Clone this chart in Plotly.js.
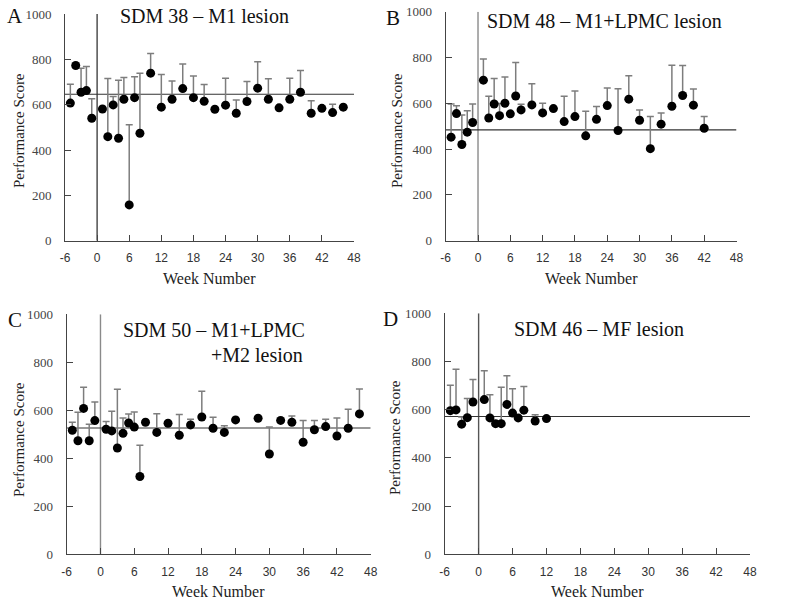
<!DOCTYPE html>
<html>
<head>
<meta charset="utf-8">
<script src="https://cdn.plot.ly/plotly-3.0.1.min.js"></script>
<style>html,body{margin:0;padding:0;background:#fff;}#chart{width:800px;height:605px;}</style>
</head>
<body>
<div id="chart"></div>
<script>
// ---- Data ----
const xTicks = [-6, 0, 6, 12, 18, 24, 30, 36, 42, 48];
const yTicks = [0, 200, 400, 600, 800, 1000];

const weeksA = [-5,-4,-3,-2,-1,1,2,3,4,5,6,7,8,10,12,14,16,18,20,22,24,26,28,30,32,34,36,38,40,42,44,46];
const scoreA = [607,773,655,662,540,581,459,599,452,624,158,631,474,739,589,624,671,631,615,580,598,562,614,673,624,586,624,655,562,584,565,589];
const errA   = [83,0,106,106,86,0,256,37,256,96,353,92,265,87,144,80,108,95,74,0,119,59,88,116,90,0,93,96,55,0,37,0];
const baseA = 646;

const weeksB = [-5,-4,-3,-2,-1,1,2,3,4,5,6,7,8,10,12,14,16,18,20,22,24,26,28,30,32,34,36,38,40,42];
const scoreB = [452,555,420,474,516,701,536,597,546,600,554,632,571,593,558,577,520,542,458,530,590,481,618,526,402,509,587,634,592,491];
const errB   = [145,34,129,93,81,92,95,111,53,115,0,146,25,92,42,0,111,112,107,56,77,183,102,45,140,49,179,131,70,51];
const baseB = 484;

const weeksC = [-5,-4,-3,-2,-1,1,2,3,4,5,6,7,8,10,12,14,16,18,20,22,24,28,30,32,34,36,38,40,42,44,46];
const scoreC = [517,473,608,473,557,521,514,443,504,547,530,324,550,508,546,496,539,572,525,508,560,567,418,558,550,467,519,532,493,525,585];
const errC   = [33,119,88,69,78,32,82,245,64,38,63,130,0,78,0,87,24,107,46,28,0,0,112,0,26,90,38,31,75,79,104];
const baseC = 526;

const weeksD = [-5,-4,-3,-2,-1,1,2,3,4,5,6,7,8,10,12];
const scoreD = [596,599,540,567,632,642,566,542,542,622,586,566,598,553,563];
const errD   = [105,169,30,79,93,120,96,0,151,119,101,0,98,26,0];
const baseD = 572;

const titles = ["SDM 38 \u2013 M1 lesion", "SDM 48 \u2013 M1+LPMC lesion", "SDM 50 \u2013 M1+LPMC", "+M2 lesion", "SDM 46 \u2013 MF lesion"];
const letters = ["A", "B", "C", "D"];
const xTitle = "Week Number";
const yTitle = "Performance Score";

// ---- Layout helpers ----
const W = 800, H = 605;
const px = v => v / W;
const py = v => 1 - v / H;

const panels = [
  {w: weeksA, s: scoreA, e: errA, b: baseA, xd: [65, 354], yd: [14, 240.7], vcol: '#444'},
  {w: weeksB, s: scoreB, e: errB, b: baseB, xd: [445.7, 736.5], yd: [11.7, 240.7], vcol: '#8a8a8a'},
  {w: weeksC, s: scoreC, e: errC, b: baseC, xd: [66.7, 370.7], yd: [314.3, 554.3], vcol: '#8a8a8a'},
  {w: weeksD, s: scoreD, e: errD, b: baseD, xd: [444.7, 750], yd: [313.3, 554.3], vcol: '#555'}
];

const traces = [];
const layout = {
  width: W, height: H,
  margin: {l: 0, r: 0, t: 0, b: 0},
  paper_bgcolor: '#fff', plot_bgcolor: 'rgba(0,0,0,0)',
  showlegend: false,
  annotations: [],
  font: {family: 'Liberation Serif', color: '#222'}
};

panels.forEach((p, i) => {
  const n = i + 1;
  const xa = n === 1 ? 'x' : 'x' + n;
  const ya = n === 1 ? 'y' : 'y' + n;
  const xRange = [xTicks[0], xTicks[xTicks.length - 1]];
  const yRange = [yTicks[0], yTicks[yTicks.length - 1]];
  // vertical line at lesion (week 0)
  traces.push({x: [0, 0], y: yRange, xaxis: xa, yaxis: ya, mode: 'lines',
    line: {color: p.vcol, width: 1.4}, hoverinfo: 'skip'});
  // baseline mean line
  traces.push({x: xRange, y: [p.b, p.b], xaxis: xa, yaxis: ya, mode: 'lines',
    line: {color: '#333', width: 1.1}, hoverinfo: 'skip'});
  // data points with upper error bars
  traces.push({x: p.w, y: p.s, xaxis: xa, yaxis: ya, mode: 'markers', type: 'scatter',
    marker: {color: '#000', size: 9},
    error_y: {type: 'data', symmetric: false, array: p.e, arrayminus: p.e.map(() => 0),
      color: '#7d7d7d', thickness: 1.5, width: 3.5}});
  layout['xaxis' + (n === 1 ? '' : n)] = {
    domain: [px(p.xd[0]), px(p.xd[1])], anchor: ya, range: xRange,
    tickmode: 'array', tickvals: xTicks, ticktext: xTicks.map(String),
    ticks: 'inside', ticklen: 6, tickcolor: '#444', tickwidth: 1,
    showline: true, linecolor: '#444', linewidth: 1,
    showgrid: false, zeroline: false, ticklabelstandoff: 6,
    tickfont: {family: 'Liberation Sans', size: 12, color: '#333'}
  };
  layout['yaxis' + (n === 1 ? '' : n)] = {
    domain: [py(p.yd[1]), py(p.yd[0])], anchor: xa, range: yRange,
    tickmode: 'array', tickvals: yTicks, ticktext: yTicks.map(String),
    ticks: 'inside', ticklen: 6, tickcolor: '#444', tickwidth: 1,
    showline: true, linecolor: '#444', linewidth: 1,
    showgrid: false, zeroline: false, ticklabelstandoff: 10,
    tickfont: {family: 'Liberation Serif', size: 13, color: '#444'}
  };
});

function ann(text, x, y, opts) {
  layout.annotations.push(Object.assign({
    text: text, x: px(x), y: py(y), xref: 'paper', yref: 'paper',
    showarrow: false, xanchor: 'center', yanchor: 'middle',
    font: {family: 'Liberation Serif', size: 20, color: '#111'}
  }, opts || {}));
}

// panel letters
ann(letters[0], 15, 16, {font: {family: 'Liberation Serif', size: 21, color: '#111'}});
ann(letters[1], 393, 18, {font: {family: 'Liberation Serif', size: 21, color: '#111'}});
ann(letters[2], 15, 320, {font: {family: 'Liberation Serif', size: 21, color: '#111'}});
ann(letters[3], 390, 319, {font: {family: 'Liberation Serif', size: 21, color: '#111'}});

// panel titles
ann(titles[0], 204, 16);
ann(titles[1], 604, 21);
ann(titles[2], 214, 330);
ann(titles[3], 305, 355, {xanchor: 'right'});
ann(titles[4], 511.7, 329, {xanchor: 'left'});

// axis titles
const ytf = {family: 'Liberation Serif', size: 15, color: '#222'};
const xtf = {family: 'Liberation Serif', size: 16, color: '#222'};
ann(yTitle, 19, 131, {textangle: -90, font: ytf});
ann(yTitle, 397, 131, {textangle: -90, font: ytf});
ann(yTitle, 19, 440, {textangle: -90, font: ytf});
ann(yTitle, 395, 438, {textangle: -90, font: ytf});
ann(xTitle, 209.5, 278, {font: xtf});
ann(xTitle, 591, 278, {font: xtf});
ann(xTitle, 218.7, 591.5, {font: xtf});
ann(xTitle, 597, 591.5, {font: xtf});

Plotly.newPlot('chart', traces, layout, {staticPlot: true, displayModeBar: false});
</script>
</body>
</html>
